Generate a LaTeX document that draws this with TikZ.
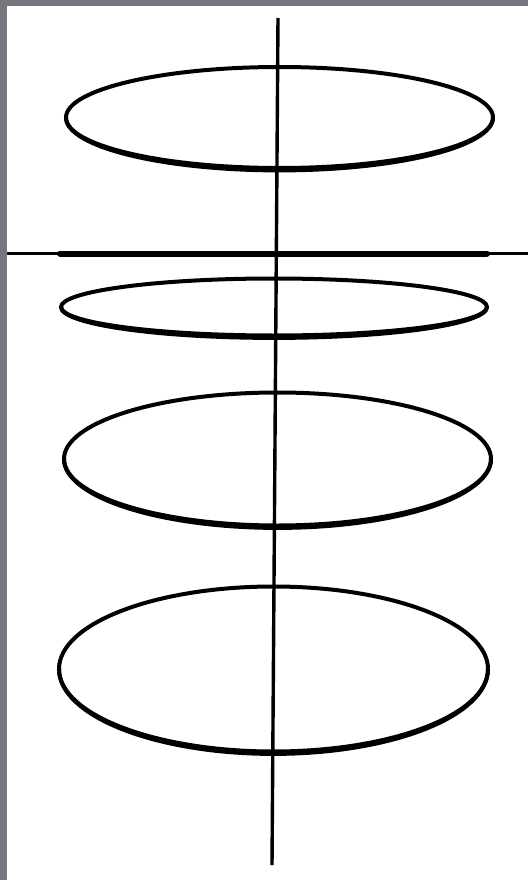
\documentclass[tikz,border=0pt]{standalone}
\definecolor{frame}{RGB}{120,117,126}
\tikzset{
  ring/.style={line width=4pt, black},
  rim/.style={line width=4pt, black},
  axis/.style={line width=3.4pt, black},
}
\newcommand{\saucer}[4]{% cx, cy, rx, ry  (y downward)
  \draw[ring] (#1,#2) ellipse [x radius=#3, y radius=#4];
  \draw[rim] (#1,#2) ++(-#3,0) arc [start angle=180, end angle=0, x radius=#3, y radius=#4+2.4];
}
\begin{document}
\begin{tikzpicture}[x=1pt,y=-1pt]
  \useasboundingbox (0,0) rectangle (528,880);
  \fill[frame] (0,0) rectangle (528,880);
  \fill[white] (7,6) rectangle (528,880);
  % vertical axis
  \coordinate (vtop) at (278,18);
  \coordinate (vbot) at (272,865);
  \draw[axis] (vtop) -- (vbot);
  % horizontal axis
  \coordinate (hl) at (7,253.5);
  \coordinate (hr) at (528,253.5);
  \coordinate (tl) at (60,253.5);
  \coordinate (tr) at (487,253.5);
  \draw[line width=2.6pt] (hl) -- (hr);
  \draw[line width=6pt, line cap=round] (tl) -- (tr);
  % ellipses
  \saucer{279.5}{117.5}{213.5}{50.5}
  \saucer{274}{307}{213}{28.5}
  \saucer{277.5}{459}{213.5}{66.5}
  \saucer{273.5}{669}{214.5}{82.5}
\end{tikzpicture}
\end{document}
